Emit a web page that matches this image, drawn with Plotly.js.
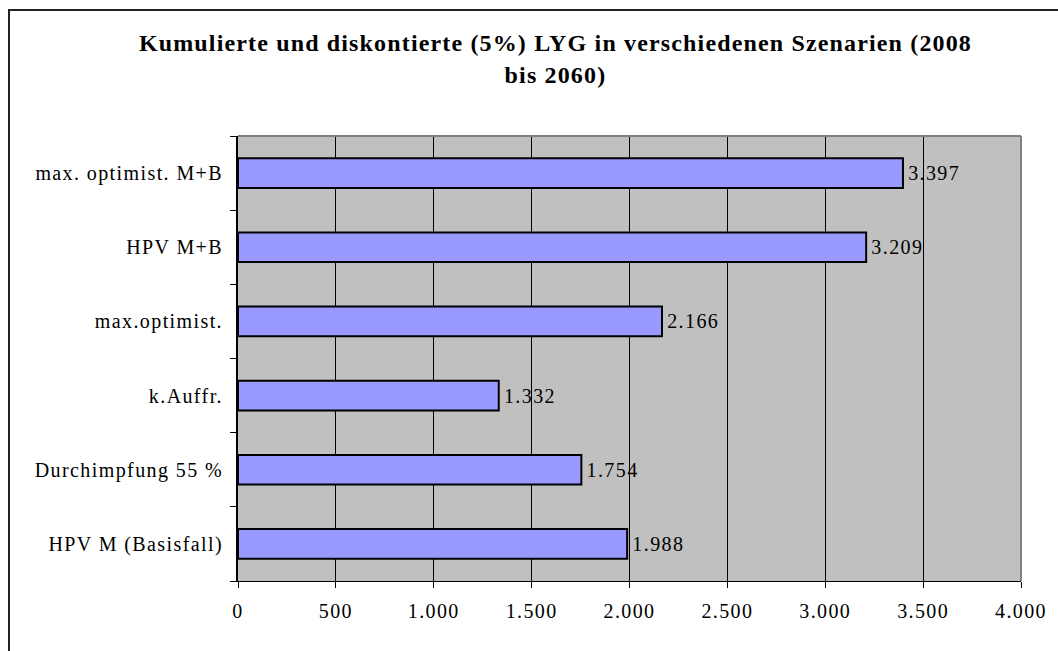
<!DOCTYPE html>
<html><head><meta charset="utf-8">
<script src="https://cdn.plot.ly/plotly-3.0.1.min.js"></script>
<style>body{margin:0;background:#fff}
#wrap{position:relative;width:1058px;height:651px;overflow:hidden}
#c{width:1058px;height:651px}
#frame{position:absolute;left:8px;top:9px;width:1200px;height:800px;border-left:2px solid #222;border-top:2px solid #222;pointer-events:none;z-index:10}
#top{position:absolute;left:8px;top:9px;width:1100px;height:2px;background:#222;z-index:11}
#c .xtick text,#c .ytick text,#c .bars text{letter-spacing:1.4px}
#c .gtitle{letter-spacing:1.15px}</style>
</head><body><div id="wrap"><div id="c"></div><div id="frame"></div><div id="top"></div></div>
<script>
const categories = ["HPV M (Basisfall)", "Durchimpfung 55 %", "k.Auffr.", "max.optimist.", "HPV M+B", "max. optimist. M+B"];
const values = [1988, 1754, 1332, 2166, 3209, 3397];
const xTicks = [0, 500, 1000, 1500, 2000, 2500, 3000, 3500, 4000];

const font = "Liberation Serif, Times New Roman, serif";
const trace = {
  type: "bar", orientation: "h",
  y: categories, x: values,
  marker: {color: "#9999FF", line: {color: "#000", width: 2}},
  width: 0.4,
  text: values, texttemplate: " %{x:,}", textposition: "outside",
  textfont: {family: font, size: 20, color: "#000"},
  cliponaxis: false, hoverinfo: "skip"
};
const layout = {
  width: 1058, height: 651,
  margin: {l: 238, r: 37, t: 136, b: 70},
  paper_bgcolor: "#fff", plot_bgcolor: "#C0C0C0",
  separators: ",.",
  showlegend: false,
  font: {family: font, color: "#000"},
  title: {text: "<b>Kumulierte und diskontierte (5%) LYG in verschiedenen Szenarien (2008<br>bis 2060)</b>",
          font: {family: font, size: 24, color: "#000"}, x: 0.525, xref: "container", y: 0.921, yref: "container", yanchor: "top"},
  xaxis: {range: [0, 4000], tickvals: xTicks, tickformat: ",", showgrid: true, gridcolor: "#000", gridwidth: 1,
          ticks: "outside", ticklen: 6, tickcolor: "#000", showline: true, linecolor: "#000", linewidth: 1,
          tickfont: {family: font, size: 20, color: "#000"}, ticklabelstandoff: 6, zeroline: false, fixedrange: true},
  yaxis: {type: "category", categoryorder: "array", categoryarray: categories, range: [-0.5, 5.5],
          tickson: "boundaries", ticks: "outside", ticklen: 6, tickcolor: "#000", showline: true, linecolor: "#000", linewidth: 2,
          showgrid: false, tickfont: {family: font, size: 20, color: "#000"}, ticklabelstandoff: 9, fixedrange: true},
  shapes: [
    {type: "line", xref: "paper", yref: "paper", x0: 0, x1: 1, y0: 1, y1: 1, line: {color: "#808080", width: 2}},
    {type: "line", xref: "paper", yref: "paper", x0: 1, x1: 1, y0: 0, y1: 1, line: {color: "#808080", width: 2}}
  ]
};
Plotly.newPlot("c", [trace], layout, {displayModeBar: false, staticPlot: true});
</script></body></html>
